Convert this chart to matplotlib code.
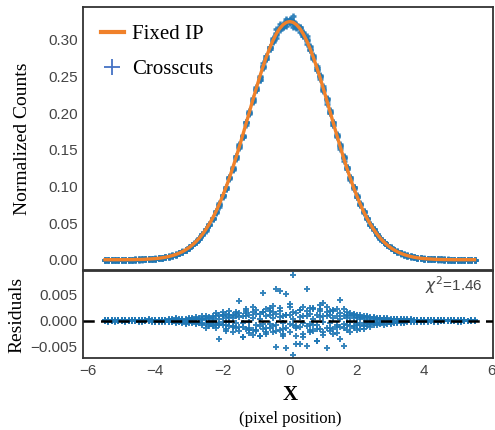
import numpy as np
import matplotlib
matplotlib.use("Agg")
import matplotlib.pyplot as plt
from matplotlib.lines import Line2D

# pixel positions of the crosscut samples
x_grid = [-5.5, -5.4, -5.3, -5.2, -5.1, -5.0, -4.9, -4.8, -4.7, -4.6,
          -4.5, -4.4, -4.3, -4.2, -4.1, -4.0, -3.9, -3.8, -3.7, -3.6,
          -3.5, -3.4, -3.3, -3.2, -3.1, -3.0, -2.9, -2.8, -2.7, -2.6,
          -2.5, -2.4, -2.3, -2.2, -2.1, -2.0, -1.9, -1.8, -1.7, -1.6,
          -1.5, -1.4, -1.3, -1.2, -1.1, -1.0, -0.9, -0.8, -0.7, -0.6,
          -0.5, -0.4, -0.3, -0.2, -0.1, 0.0, 0.1, 0.2, 0.3, 0.4,
          0.5, 0.6, 0.7, 0.8, 0.9, 1.0, 1.1, 1.2, 1.3, 1.4,
          1.5, 1.6, 1.7, 1.8, 1.9, 2.0, 2.1, 2.2, 2.3, 2.4,
          2.5, 2.6, 2.7, 2.8, 2.9, 3.0, 3.1, 3.2, 3.3, 3.4,
          3.5, 3.6, 3.7, 3.8, 3.9, 4.0, 4.1, 4.2, 4.3, 4.4,
          4.5, 4.6, 4.7, 4.8, 4.9, 5.0, 5.1, 5.2, 5.3, 5.4, 5.5]

# fixed IP model (normalized counts)
fixed_ip = [0.0001, 0.0001, 0.0001, 0.0001, 0.0001, 0.0001, 0.0001, 0.0002, 0.0002, 0.0003,
            0.0004, 0.0005, 0.0007, 0.0010, 0.0013, 0.0016, 0.0021, 0.0027, 0.0035, 0.0045,
            0.0057, 0.0071, 0.0089, 0.0110, 0.0136, 0.0166, 0.0202, 0.0244, 0.0292, 0.0348,
            0.0412, 0.0484, 0.0566, 0.0656, 0.0757, 0.0867, 0.0986, 0.1114, 0.1250, 0.1395,
            0.1545, 0.1700, 0.1859, 0.2019, 0.2179, 0.2335, 0.2487, 0.2630, 0.2764, 0.2885,
            0.2992, 0.3083, 0.3155, 0.3207, 0.3239, 0.3250, 0.3239, 0.3207, 0.3155, 0.3083,
            0.2992, 0.2885, 0.2764, 0.2630, 0.2487, 0.2335, 0.2179, 0.2019, 0.1859, 0.1700,
            0.1545, 0.1395, 0.1250, 0.1114, 0.0986, 0.0867, 0.0757, 0.0656, 0.0566, 0.0484,
            0.0412, 0.0348, 0.0292, 0.0244, 0.0202, 0.0166, 0.0136, 0.0110, 0.0089, 0.0071,
            0.0057, 0.0045, 0.0035, 0.0027, 0.0021, 0.0016, 0.0013, 0.0010, 0.0007, 0.0005,
            0.0004, 0.0003, 0.0002, 0.0002, 0.0001, 0.0001, 0.0001, 0.0001, 0.0001, 0.0001, 0.0001]

# residuals of five crosscuts, in units of 1e-4
resid_a = [1, -2, 2, 0, -1, 2, -2, 1, 0, -1,
           2, -1, 0, 3, -2, 1, -3, 2, 0, -2,
           3, -4, 2, -5, 4, -3, 6, -7, 5, -8,
           9, -11, 6, -14, -35, 10, -16, 18, -12, 14,
           38, -31, 15, -24, 26, -18, -29, 53, -21, 24,
           28, 61, 57, -25, 51, 33, 88, -30, -45, 27,
           61, -22, 24, -38, 30, 34, -52, 19, -26, 22,
           40, -49, 16, -21, 13, -17, 11, -15, 9, -12,
           7, -9, 6, -8, 5, -6, 4, -5, 3, -4,
           3, -2, 2, -3, 1, -2, 2, -1, 1, -2,
           1, -1, 2, 0, -1, 1, -2, 1, 0, 1, -1]
resid_b = [-1, 1, 0, -2, 1, -1, 2, 0, -1, 1,
           -2, 1, 2, -1, 0, -3, 2, 1, -2, 3,
           -3, 5, -2, 4, -6, 3, -5, 7, -4, 9,
           -13, 8, -10, 15, -9, 17, -20, 11, -22, 16,
           -20, -31, 22, -17, -28, 21, -29, 17, -25, 19,
           -22, -51, 18, -30, -52, 27, -66, -45, 21, -31,
           -49, 25, -20, -38, 23, -27, 26, -19, 21, -24,
           -35, 22, -18, 15, -14, 12, -16, 10, -11, 8,
           -8, 6, -7, 5, -6, 4, -5, 3, -4, 3,
           -2, 3, -1, 2, -3, 1, -2, 2, 0, 1,
           -1, 2, 0, -1, 1, -2, 1, 0, -1, 1, 0]
resid_c = [0, 1, -1, 1, 0, -1, 1, -1, 0, 1,
           -1, 0, 2, -1, 1, -2, 1, 0, 2, -1,
           2, -2, 3, -3, 2, -4, 3, -4, 4, -5,
           6, -7, 9, -8, 11, -9, 13, -10, 12, -14,
           15, -12, 18, -14, 16, -20, 14, -16, 22, -13,
           17, -19, 24, -15, 12, -22, 16, -14, 20, -25,
           18, -17, 22, -15, 19, -21, 16, -14, 18, -12,
           15, -13, 12, -10, 11, -9, 8, -10, 7, -6,
           5, -4, 6, -3, 4, -5, 3, -2, 3, -2,
           2, -1, 1, -2, 2, -1, 1, -1, 2, -1,
           0, 1, -1, 1, 0, -1, 1, 0, -1, 0, 1]
resid_d = [1, 0, -1, 0, 1, 0, -1, 0, 1, 0,
           1, -2, 0, 1, -1, 2, -1, 0, 1, -2,
           -2, 3, -3, 2, -4, 5, -3, 4, -5, 4,
           -7, 5, -8, 9, -6, 11, -9, 8, -11, 10,
           -12, 9, -15, 11, -18, 13, -10, 17, -14, 12,
           -10, 13, -18, 9, -14, 11, -8, 15, -12, 10,
           -11, 14, -9, 12, -16, 10, -13, 11, -15, 9,
           -12, 10, -8, 9, -11, 7, -8, 6, -7, 5,
           -4, 3, -5, 4, -3, 2, -4, 3, -2, 2,
           -1, 2, -2, 1, -1, 2, -1, 1, -2, 1,
           1, 0, -1, 0, 1, -1, 0, 1, 0, -1, 0]
resid_e = [0, -1, 1, 0, -1, 1, 0, -1, 1, 0,
           0, 1, -1, 2, 0, -1, 1, -2, 0, 1,
           1, -1, 0, 2, -2, 1, -1, 3, -2, 2,
           3, -4, 2, -5, 4, -3, 5, -2, 6, -4,
           7, -5, 9, -3, 6, -8, 4, -6, 10, -7,
           5, -9, 8, -4, 11, -6, 3, -10, 7, -5,
           9, -6, 4, -8, 7, -3, 10, -5, 6, -9,
           4, -6, 5, -3, 6, -4, 3, -5, 2, -3,
           2, -3, 1, -2, 2, -1, 3, -1, 1, -2,
           1, 0, -1, 1, 0, -1, 1, 0, -1, 1,
           0, -1, 0, 1, -1, 0, 1, -1, 0, 1, 0]

chi2 = 1.46

x = np.array(x_grid)
model = np.array(fixed_ip)
resids = [np.array(r) * 1e-4
          for r in (resid_a, resid_b, resid_c, resid_d, resid_e)]

plt.rcParams['font.family'] = ['Liberation Sans', 'DejaVu Sans']
serif = 'Liberation Serif'
tick_col = '#444444'
spine_col = '#333333'
blue = '#1f77b4'
orange = '#f0812a'

fig = plt.figure(figsize=(4.95, 4.30), dpi=100)
ax1 = fig.add_axes([0.168, 0.372, 0.828, 0.612])
ax2 = fig.add_axes([0.168, 0.167, 0.828, 0.203], sharex=ax1)

# top panel: crosscuts + fixed IP
for r in resids:
    ax1.plot(x, model + r, '+', color=blue, ms=5, mew=1.8, alpha=0.9, zorder=2)
ax1.plot(x, model, '-', color=orange, lw=2.4, zorder=3)

ax1.set_xlim(-6.15, 6.05)
ax1.set_ylim(-0.014, 0.345)
ax1.set_yticks([0.0, 0.05, 0.10, 0.15, 0.20, 0.25, 0.30])
ax1.set_yticklabels(['0.00', '0.05', '0.10', '0.15', '0.20', '0.25', '0.30'])
ax1.set_ylabel('Normalized Counts', family=serif, fontsize=14, labelpad=12)
ax1.tick_params(labelbottom=False)

handles = [Line2D([], [], color=orange, lw=3),
           Line2D([], [], ls='none', marker='+', color='#4472c4', ms=12, mew=1.3)]
ax1.legend(handles, ['Fixed IP', 'Crosscuts'], loc='upper left', frameon=False,
           prop={'family': serif, 'size': 15}, handlelength=1.1,
           handletextpad=0.4, borderaxespad=0.45, labelspacing=0.75)

# bottom panel: residuals
for r in resids:
    ax2.plot(x, r, '+', color=blue, ms=4, mew=1.4, alpha=0.9, zorder=2)
ax2.axhline(0, color='black', ls='--', lw=1.8, dashes=(4.5, 2.5), zorder=3)
ax2.set_ylim(-0.0072, 0.0096)
ax2.set_yticks([-0.005, 0.0, 0.005])
ax2.set_yticklabels(['\u22120.005', '0.000', '0.005'])
ax2.set_xticks([-6, -4, -2, 0, 2, 4, 6])
ax2.set_xticklabels(['\u22126', '\u22124', '\u22122', '0', '2', '4', '6'])
ax2.set_ylabel('Residuals', family=serif, fontsize=14, labelpad=4)
ax2.text(0.975, 0.96, r'$\chi^2$=%.2f' % chi2, transform=ax2.transAxes,
         ha='right', va='top', fontsize=11, color=tick_col)

fig.text(0.586, 0.081, 'X', family=serif, fontsize=15, fontweight='bold',
         ha='center', va='center')
fig.text(0.586, 0.026, '(pixel position)', family=serif, fontsize=12,
         ha='center', va='center')

for ax in (ax1, ax2):
    for s in ax.spines.values():
        s.set_color(spine_col)
        s.set_linewidth(1.3)
    ax.tick_params(length=0, pad=4, labelsize=11, labelcolor=tick_col)

fig.savefig('out.png', dpi=100)
plt.close(fig)
